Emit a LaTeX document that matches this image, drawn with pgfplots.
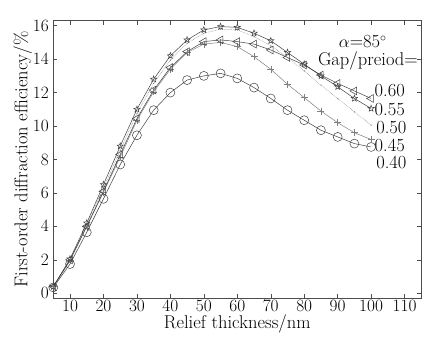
\documentclass[border=0pt]{standalone}
\usepackage{pgfplots}
\pgfplotsset{compat=1.18}
\pgfdeclareplotmark{pstar}{%
  \pgfpathmoveto{\pgfqpointpolar{90}{\pgfplotmarksize}}%
  \pgfpathlineto{\pgfqpointpolar{126}{0.42\pgfplotmarksize}}%
  \pgfpathlineto{\pgfqpointpolar{162}{\pgfplotmarksize}}%
  \pgfpathlineto{\pgfqpointpolar{198}{0.42\pgfplotmarksize}}%
  \pgfpathlineto{\pgfqpointpolar{234}{\pgfplotmarksize}}%
  \pgfpathlineto{\pgfqpointpolar{270}{0.42\pgfplotmarksize}}%
  \pgfpathlineto{\pgfqpointpolar{306}{\pgfplotmarksize}}%
  \pgfpathlineto{\pgfqpointpolar{342}{0.42\pgfplotmarksize}}%
  \pgfpathlineto{\pgfqpointpolar{18}{\pgfplotmarksize}}%
  \pgfpathlineto{\pgfqpointpolar{54}{0.42\pgfplotmarksize}}%
  \pgfpathclose\pgfusepathqstroke}
\pgfplotstableread{
x c40 p45 d50 s55 t60
5 0.35 0.40 0.40 0.40 0.40
10 1.75 1.95 2.00 2.05 2.00
15 3.65 4.00 4.10 4.20 4.00
20 5.65 6.05 6.30 6.50 6.10
25 7.70 8.15 8.55 8.80 8.30
30 9.45 10.35 10.75 11.00 10.45
35 10.95 12.05 12.55 12.80 12.15
40 12.00 13.40 13.95 14.20 13.50
45 12.75 14.40 14.95 15.15 14.45
50 13.00 14.90 15.55 15.75 15.05
55 13.15 15.00 15.80 15.95 15.15
60 12.85 14.75 15.75 15.90 15.05
65 12.30 14.15 15.35 15.55 14.90
70 11.65 13.40 14.80 15.10 14.55
75 10.95 12.50 14.10 14.40 14.10
80 10.35 11.70 13.30 13.70 13.65
85 9.75 10.90 12.45 13.00 13.05
90 9.35 10.20 11.65 12.35 12.55
95 8.95 9.60 10.85 11.65 12.10
100 8.75 9.20 10.05 11.05 11.65
}\data
\begin{document}
\begin{tikzpicture}
\begin{axis}[
  at={(0,0)}, anchor=south west,
  scale only axis, width=368pt, height=277.6pt,
  xmin=5, xmax=115, ymin=-0.3, ymax=16.3,
  xtick={10,20,...,110}, ytick={0,2,...,16},
  tick align=inside, major tick length=4pt,
  tick style={black!70, line width=0.5pt},
  axis line style={black!70, line width=0.6pt},
  tick label style={font=\fontsize{18}{20}\selectfont},
  label style={font=\fontsize{18.5}{21}\selectfont},
  xlabel={Relief thickness/nm},
  ylabel={First-order diffraction efficiency/\%},
  xlabel style={yshift=4pt},
  ylabel style={yshift=-6pt},
  xticklabel style={yshift=1pt},
  yticklabel style={xshift=-1pt},
  clip=false,
  every axis plot/.append style={line width=0.5pt},
]
\addplot[black!75, mark=o, mark size=4.5pt, mark options={solid, fill=none}] table[x=x,y=c40] {\data};
\addplot[black!50, mark=+, mark size=3.5pt] table[x=x,y=p45] {\data};
\addplot[black!55, densely dotted, mark=*, mark size=0.4pt] table[x=x,y=d50] {\data};
\addplot[black!75, mark=pstar, mark size=3.3pt, mark options={solid}] table[x=x,y=s55] {\data};
\addplot[black!75, mark=triangle, mark size=4.5pt, mark options={solid, rotate=90}] table[x=x,y=t60] {\data};
\node[font=\fontsize{18.5}{21}\selectfont, inner sep=0pt] at (axis cs:97.5,15.05) {$\alpha$=85$^\circ$};
\node[font=\fontsize{18.5}{21}\selectfont, anchor=east, inner sep=0pt] at (axis cs:114,13.9) {Gap/preiod=};
\node[font=\fontsize{18.5}{21}\selectfont, anchor=west, inner sep=0pt] at (axis cs:101,12.15) {0.60};
\node[font=\fontsize{18.5}{21}\selectfont, anchor=west, inner sep=0pt] at (axis cs:101,11.0) {0.55};
\node[font=\fontsize{18.5}{21}\selectfont, anchor=west, inner sep=0pt] at (axis cs:101.5,9.93) {0.50};
\node[font=\fontsize{18.5}{21}\selectfont, anchor=west, inner sep=0pt] at (axis cs:101,8.85) {0.45};
\node[font=\fontsize{18.5}{21}\selectfont, anchor=west, inner sep=0pt] at (axis cs:101.5,7.83) {0.40};
\end{axis}
\pgfresetboundingbox
\path (-53.3pt,-49.7pt) rectangle (371.7pt,298.3pt);
\end{tikzpicture}
\end{document}
